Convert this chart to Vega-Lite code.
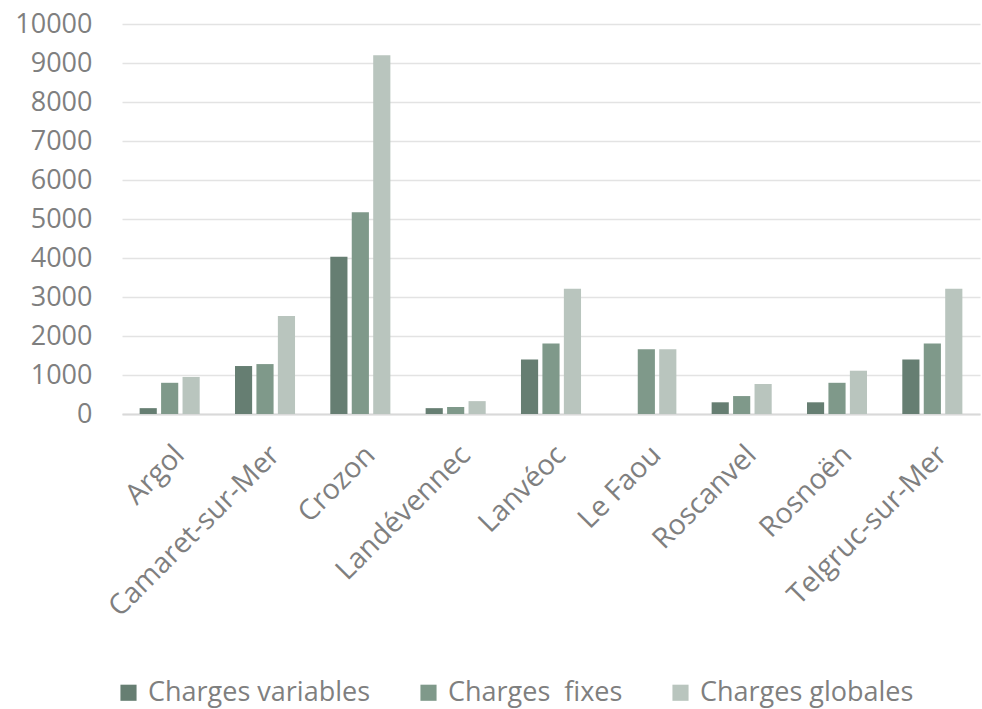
{
  "$schema": "https://vega.github.io/schema/vega-lite/v6.json",
  "autosize": {"type": "none"},
  "width": 858,
  "height": 390,
  "padding": {"left": 122, "top": 24, "right": 2, "bottom": 295},
  "background": "white",
  "config": {
    "font": "Open Sans",
    "view": {"stroke": null},
    "axis": {"labelColor": "#7f7f7f", "labelFont": "Open Sans"},
    "legend": {"labelColor": "#7f7f7f", "labelFont": "Open Sans"}
  },
  "data": {
    "values": [
      {"commune": "Argol", "type": "Charges variables", "valeur": 150},
      {"commune": "Argol", "type": "Charges \u00a0fixes", "valeur": 800},
      {"commune": "Argol", "type": "Charges globales", "valeur": 950},
      {"commune": "Camaret-sur-Mer", "type": "Charges variables", "valeur": 1230},
      {"commune": "Camaret-sur-Mer", "type": "Charges \u00a0fixes", "valeur": 1280},
      {"commune": "Camaret-sur-Mer", "type": "Charges globales", "valeur": 2510},
      {"commune": "Crozon", "type": "Charges variables", "valeur": 4030},
      {"commune": "Crozon", "type": "Charges \u00a0fixes", "valeur": 5170},
      {"commune": "Crozon", "type": "Charges globales", "valeur": 9200},
      {"commune": "Landévennec", "type": "Charges variables", "valeur": 150},
      {"commune": "Landévennec", "type": "Charges \u00a0fixes", "valeur": 180},
      {"commune": "Landévennec", "type": "Charges globales", "valeur": 330},
      {"commune": "Lanvéoc", "type": "Charges variables", "valeur": 1400},
      {"commune": "Lanvéoc", "type": "Charges \u00a0fixes", "valeur": 1810},
      {"commune": "Lanvéoc", "type": "Charges globales", "valeur": 3210},
      {"commune": "Le Faou", "type": "Charges variables", "valeur": 0},
      {"commune": "Le Faou", "type": "Charges \u00a0fixes", "valeur": 1660},
      {"commune": "Le Faou", "type": "Charges globales", "valeur": 1660},
      {"commune": "Roscanvel", "type": "Charges variables", "valeur": 300},
      {"commune": "Roscanvel", "type": "Charges \u00a0fixes", "valeur": 460},
      {"commune": "Roscanvel", "type": "Charges globales", "valeur": 770},
      {"commune": "Rosnoën", "type": "Charges variables", "valeur": 300},
      {"commune": "Rosnoën", "type": "Charges \u00a0fixes", "valeur": 800},
      {"commune": "Rosnoën", "type": "Charges globales", "valeur": 1110},
      {"commune": "Telgruc-sur-Mer", "type": "Charges variables", "valeur": 1400},
      {"commune": "Telgruc-sur-Mer", "type": "Charges \u00a0fixes", "valeur": 1810},
      {"commune": "Telgruc-sur-Mer", "type": "Charges globales", "valeur": 3210}
    ]
  },
  "mark": {"type": "bar"},
  "encoding": {
    "x": {
      "field": "commune",
      "type": "nominal",
      "sort": null,
      "title": null,
      "scale": {"paddingInner": 0.37, "paddingOuter": 0.185},
      "axis": {
        "labelAngle": -45,
        "labelFontSize": 28.5,
        "labelPadding": 26,
        "ticks": false,
        "domain": true,
        "domainColor": "#d9d9d9",
        "domainWidth": 2,
        "labelLimit": 400
      }
    },
    "xOffset": {
      "field": "type",
      "type": "nominal",
      "sort": null,
      "scale": {"paddingInner": 0.2, "paddingOuter": 0}
    },
    "y": {
      "field": "valeur",
      "type": "quantitative",
      "title": null,
      "scale": {"domain": [0, 10000], "nice": false},
      "axis": {
        "values": [0, 1000, 2000, 3000, 4000, 5000, 6000, 7000, 8000, 9000, 10000],
        "format": "d",
        "labelFontSize": 27,
        "labelPadding": 30,
        "ticks": false,
        "domain": false,
        "gridColor": "#e3e3e3",
        "gridWidth": 1.5
      }
    },
    "color": {
      "field": "type",
      "type": "nominal",
      "title": null,
      "scale": {
        "domain": ["Charges variables", "Charges \u00a0fixes", "Charges globales"],
        "range": ["#667e72", "#7f998a", "#b9c5be"]
      },
      "legend": {
        "orient": "none",
        "direction": "horizontal",
        "legendX": -7,
        "legendY": 655,
        "symbolType": "square",
        "symbolSize": 260,
        "symbolStrokeWidth": 0,
        "labelFontSize": 27,
        "columnPadding": 44,
        "labelOffset": 6,
        "labelLimit": 400
      }
    }
  }
}
